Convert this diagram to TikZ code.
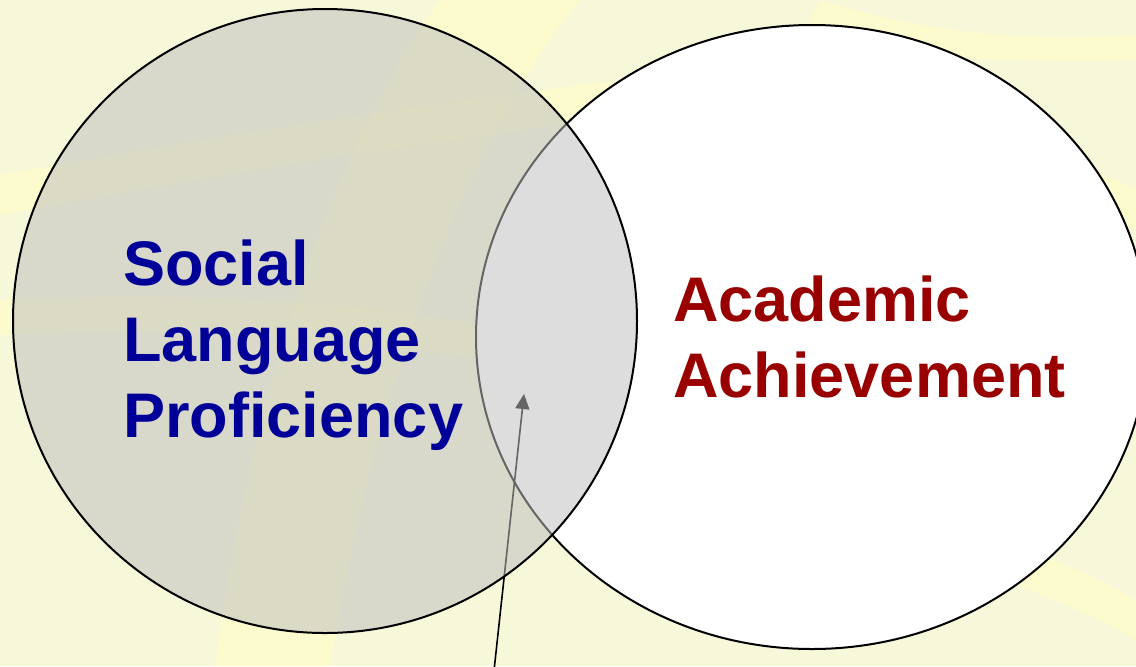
\documentclass[tikz,border=0pt]{standalone}
\usepackage{fontspec}
\setmainfont{Liberation Sans}
\usetikzlibrary{arrows.meta}
\definecolor{bgyellow}{HTML}{F7F7DA}
\definecolor{swoosh}{HTML}{FFFFC4}
\definecolor{socblue}{HTML}{000099}
\definecolor{acadred}{HTML}{990000}
\definecolor{ringgray}{HTML}{BFBFBF}
\tikzstyle{ring}=[draw=black, line width=1pt]
\tikzstyle{band}=[fill=swoosh, draw=none, opacity=0.55]
\tikzstyle{blocktext}=[font=\fontsize{31.5}{38}\selectfont\bfseries, align=left, anchor=base west, inner sep=0]

\begin{document}
\begin{tikzpicture}[x=0.5pt, y=-0.5pt]

\useasboundingbox (0,0) rectangle (1136,666);
\clip (0,0) rectangle (1136,666);

% background and soft swooshes
\fill [bgyellow] (0,0) rectangle (1136,666);
\path [band] (440,0) .. controls (330,150) and (250,400) .. (215,666)
  -- (330,666) .. controls (370,420) and (450,160) .. (580,0) -- cycle;
\path [band] (0,175) .. controls (300,120) and (500,95) .. (700,70)
  -- (700,110) .. controls (500,130) and (300,160) .. (0,215) -- cycle;
\path [band] (0,300) .. controls (200,290) and (420,300) .. (640,360)
  -- (640,395) .. controls (420,335) and (200,325) .. (0,335) -- cycle;
\path [band] (820,0) .. controls (950,40) and (1050,40) .. (1136,35)
  -- (1136,60) .. controls (1050,62) and (950,62) .. (800,40) -- cycle;
\path [band] (900,120) .. controls (1000,140) and (1080,160) .. (1136,190)
  -- (1136,230) .. controls (1080,200) and (1000,180) .. (900,160) -- cycle;
\path [band] (1000,540) .. controls (1060,560) and (1100,580) .. (1136,600)
  -- (1136,640) .. controls (1100,620) and (1060,600) .. (1000,580) -- cycle;

% right set
\draw [ring, fill=white] (812,337) ellipse [x radius=336, y radius=312];

% pointer into the overlap
\coordinate (tail) at (493,680);
\coordinate (tip)  at (524,394);
\draw [line width=0.8pt, -{Triangle[length=7.5pt, width=7pt]}] (tail) -- (tip);

% left set, see-through
\draw [ring, fill=ringgray, fill opacity=0.53] (325,321) circle [radius=312];

\node [blocktext, text=socblue] (social) at (123,437)
  {Social\\Language\\Proficiency};
\node [blocktext, text=acadred] (academic) at (673,397)
  {Academic\\Achievement};

\end{tikzpicture}
\end{document}
